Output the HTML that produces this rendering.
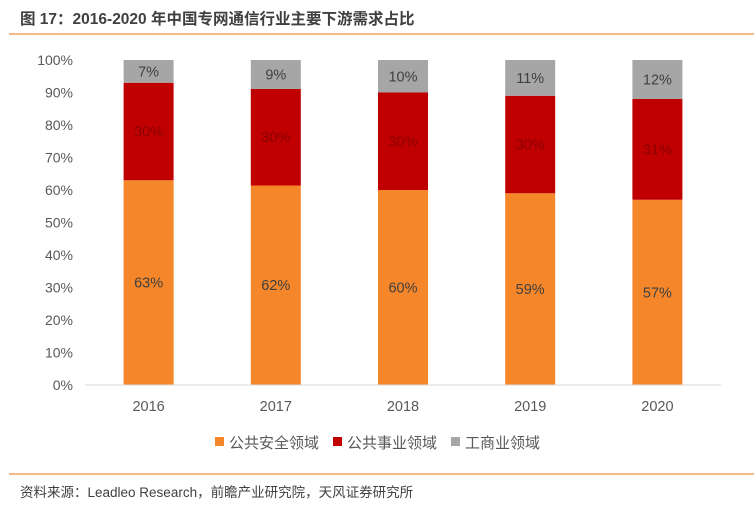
<!DOCTYPE html>
<html><head><meta charset="utf-8"><style>
body{margin:0;background:#fff;width:754px;height:514px;overflow:hidden;font-family:"Liberation Sans","Noto Sans CJK SC",sans-serif}
</style></head><body>
<svg width="754" height="514" xmlns="http://www.w3.org/2000/svg" font-family="Liberation Sans, Noto Sans CJK SC, sans-serif">
<text x="20" y="24" font-size="15.5" font-weight="bold" fill="#404040">图 17：2016-2020 年中国专网通信行业主要下游需求占比</text>
<line x1="9" y1="34" x2="754" y2="34" stroke="#F4A460" stroke-width="1.5"/>
<g id="yaxis"></g>
<g id="bars"></g>
<line x1="85" y1="385" x2="721" y2="385" stroke="#d9d9d9" stroke-width="1"/>
<g id="xlabels"></g>
<g font-size="15" fill="#595959">
<rect x="215" y="437" width="9" height="9" fill="#F5862A"/>
<text x="229" y="448">公共安全领域</text>
<rect x="333" y="437" width="9" height="9" fill="#C00000"/>
<text x="347" y="448">公共事业领域</text>
<rect x="451" y="437" width="9" height="9" fill="#A6A6A6"/>
<text x="465" y="448">工商业领域</text>
</g>
<line x1="9" y1="474" x2="754" y2="474" stroke="#F4A460" stroke-width="1.5"/>
<text x="20" y="497" font-size="13.5" fill="#404040">资料来源：Leadleo Research，前瞻产业研究院，天风证券研究所</text>
</svg>
<script>
const categories=["2016","2017","2018","2019","2020"];
const publicSafety=[63,62,60,59,57];
const publicUtility=[30,30,30,30,31];
const commercial=[7,9,10,11,12];
const yTicks=[0,10,20,30,40,50,60,70,80,90,100];
const NS="http://www.w3.org/2000/svg";
const x0=85,x1=721,y0=385,y100=60;
const y=v=>y0-(y0-y100)*v/100;
const band=(x1-x0)/categories.length;
const xc=i=>x0+band*(i+0.5);
function mk(tag,attrs,parent){const e=document.createElementNS(NS,tag);for(const k in attrs)e.setAttribute(k,attrs[k]);parent.appendChild(e);return e;}
const ya=document.getElementById('yaxis');
yTicks.forEach(t=>{const e=mk('text',{x:73,y:y(t)+5,'text-anchor':'end','font-size':14,fill:'#595959'},ya);e.textContent=t+'%';

});
const bars=document.getElementById('bars'),xl=document.getElementById('xlabels');
const series=[[publicSafety,'#F5862A','#404040','public-safety'],[publicUtility,'#C00000','#8B0000','public-utility'],[commercial,'#A6A6A6','#404040','commercial']];
categories.forEach((c,i)=>{
 const total=publicSafety[i]+publicUtility[i]+commercial[i];
 let base=0;const bw=50;
 series.forEach(([vals,col,tc,nm])=>{
  const v=vals[i];const top=base+v*100/total;
  const r=mk('rect',{x:xc(i)-bw/2,y:y(top),width:bw,height:y(base)-y(top),fill:col},bars);
  
  
  const t=mk('text',{x:xc(i),y:(y(base)+y(top))/2+5,'text-anchor':'middle','font-size':14.5,fill:tc},bars);
  t.textContent=v+'%';
  
  
  base=top;});
 const l=mk('text',{x:xc(i),y:411,'text-anchor':'middle','font-size':14.5,fill:'#595959'},xl);
 l.textContent=c;
 
 
});
</script>
</body></html>
